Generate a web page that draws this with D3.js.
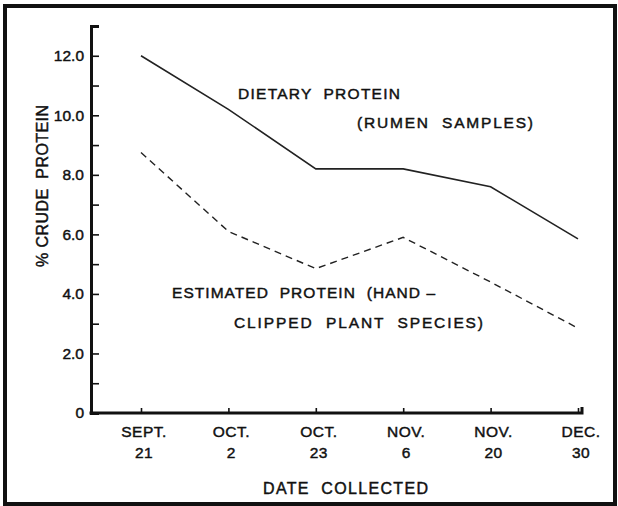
<!DOCTYPE html>
<html>
<head>
<meta charset="utf-8">
<script src="https://cdn.jsdelivr.net/npm/d3@7"></script>
<style>
  body { margin: 0; background: #fff; }
  text { font-family: "Liberation Sans", Arial, sans-serif; fill: #111; white-space: pre; }
  .heavy { stroke: #111; stroke-width: 0.45px; }
</style>
</head>
<body>
<svg id="chart" width="618" height="506"></svg>
<script>

var dateMonths = ["SEPT.", "OCT.", "OCT.", "NOV.", "NOV.", "DEC."];
var dateDays = ["21", "2", "23", "6", "20", "30"];
var dietaryProtein = [12.0, 10.2, 8.2, 8.2, 7.6, 5.85];
var estimatedProtein = [8.75, 6.1, 4.85, 5.9, 4.4, 2.85];
var yTicks = [0, 1, 2, 3, 4, 5, 6, 7, 8, 9, 10, 11, 12];

var svg = d3.select('#chart');

// outer frame
svg.append("rect")
  .attr("x", 5).attr("y", 6)
  .attr("width", 610).attr("height", 498)
  .attr("fill", "none")
  .attr("stroke", "#111")
  .attr("stroke-width", 4);

var axisX = 91;
var axisY = 413;
var axisEnd = 582;

var x = d3.scalePoint()
  .domain(d3.range(dateMonths.length))
  .range([141, 578]);

var y = d3.scaleLinear()
  .domain([0, 13])
  .range([axisY, 26]);

// y axis, ticks pointing inward, labels on even values only
var yAxis = d3.axisLeft(y)
  .tickValues(yTicks)
  .tickSizeInner(-8)
  .tickSizeOuter(-8)
  .tickPadding(7)
  .tickFormat(function(d){
    if (d % 2 !== 0) return "";
    return d === 0 ? "0" : d.toFixed(1);
  });

var gy = svg.append("g")
  .attr("transform", "translate(" + axisX + ",0)")
  .call(yAxis);
gy.select(".domain").attr("stroke", "#111").attr("stroke-width", 3);
gy.selectAll(".tick line").attr("stroke", "#111").attr("stroke-width", 1.6);
gy.selectAll(".tick text")
  .attr("class", "heavy")
  .attr("font-size", 15.5)
  .attr("fill", "#111")
  .style("font-family", "'Liberation Sans', Arial, sans-serif");

// x axis: ticks go up from the baseline
var xAxis = d3.axisBottom(x)
  .tickSizeInner(-5)
  .tickSizeOuter(0)
  .tickFormat("");

var gx = svg.append("g")
  .attr("transform", "translate(0," + axisY + ")")
  .call(xAxis);
gx.select(".domain").remove();
gx.selectAll(".tick line").attr("stroke", "#111").attr("stroke-width", 1.6);

svg.append("path")
  .attr("d", "M" + (axisX - 1.5) + "," + axisY + "H" + axisEnd + "V" + (axisY - 6))
  .attr("fill", "none")
  .attr("stroke", "#111")
  .attr("stroke-width", 3);

// date labels, two lines
var dateLabels = svg.append("g").selectAll("text")
  .data(dateMonths)
  .enter().append("text")
  .attr("class", "heavy")
  .attr("text-anchor", "middle")
  .attr("font-size", 15.5)
  .attr("letter-spacing", 0.5);

dateLabels.append("tspan")
  .attr("x", function(d, i){ return x(i) + 3; })
  .attr("y", 437)
  .text(function(d){ return d; });

dateLabels.append("tspan")
  .attr("x", function(d, i){ return x(i) + 3; })
  .attr("y", 457.5)
  .text(function(d, i){ return dateDays[i]; });

// data lines
var line = d3.line()
  .x(function(d, i){ return x(i); })
  .y(function(d){ return y(d); });

svg.append("path")
  .datum(dietaryProtein)
  .attr("d", line)
  .attr("fill", "none")
  .attr("stroke", "#222")
  .attr("stroke-width", 1.6);

svg.append("path")
  .datum(estimatedProtein)
  .attr("d", line)
  .attr("fill", "none")
  .attr("stroke", "#222")
  .attr("stroke-width", 1.4)
  .attr("stroke-dasharray", "7,5");

// labels in the plot
function label(txt, lx, ly, len){
  svg.append("text")
    .attr("class", "heavy")
    .attr("x", lx)
    .attr("y", ly)
    .attr("font-size", 15.5)
    .attr("textLength", len)
    .attr("lengthAdjust", "spacing")
    .text(txt);
}

label("DIETARY  PROTEIN", 238, 99, 162);
label("(RUMEN  SAMPLES)", 357, 128, 176);
label("ESTIMATED  PROTEIN  (HAND \u2013", 172, 297.5, 263);
label("CLIPPED  PLANT  SPECIES)", 234, 327.5, 249);

// axis titles
svg.append("text")
  .attr("class", "heavy")
  .attr("x", 263)
  .attr("y", 494)
  .attr("font-size", 16)
  .attr("textLength", 165)
  .attr("lengthAdjust", "spacing")
  .text("DATE  COLLECTED");

svg.append("text")
  .attr("class", "heavy")
  .attr("transform", "translate(48,186) rotate(-90)")
  .attr("text-anchor", "middle")
  .attr("font-size", 16)
  .attr("textLength", 162)
  .attr("lengthAdjust", "spacing")
  .text("% CRUDE  PROTEIN");

</script>
</body>
</html>
